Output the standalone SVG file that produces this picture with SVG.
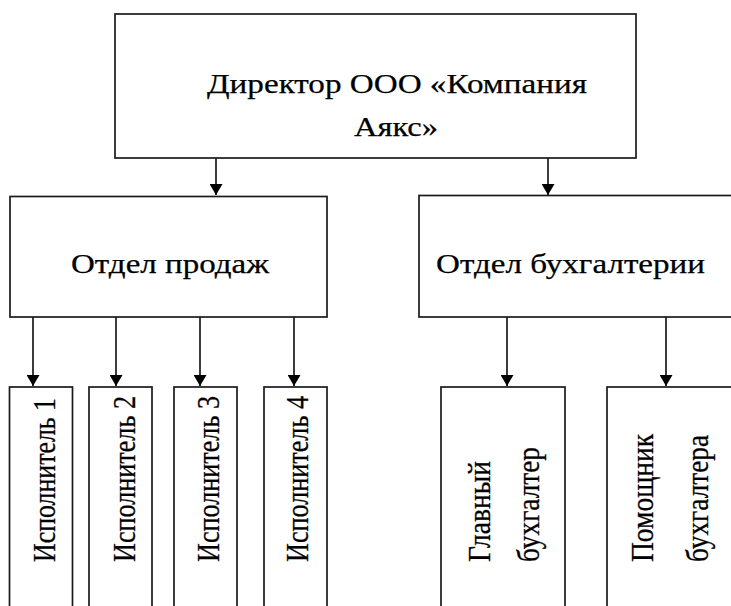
<svg xmlns="http://www.w3.org/2000/svg" width="731" height="606" viewBox="0 0 731 606">
  <style>
    .box { fill: #ffffff; stroke: #1a1a1a; stroke-width: 1.7; }
    .link { fill: none; stroke: #1a1a1a; stroke-width: 1.7; marker-end: url(#arrow); }
    text { font-family: 'Liberation Serif', 'DejaVu Serif', serif; fill: #000000; stroke: #000000; stroke-width: 0.25; }
    .lbl { font-size: 28px; }
    .vlbl { font-size: 27px; }
  </style>
  <defs>
    <marker id="arrow" viewBox="0 0 11 13" refX="11" refY="6.5" markerWidth="11" markerHeight="13" markerUnits="userSpaceOnUse" orient="auto">
      <path d="M0,0 L11,6.5 L0,13 z" fill="#000000"/>
    </marker>
  </defs>

  <rect width="731" height="606" fill="#ffffff"/>

  <!-- connectors -->
  <g id="connectors">
    <line class="link" x1="216" y1="158" x2="216" y2="195"/>
    <line class="link" x1="548" y1="158" x2="548" y2="195"/>
    <line class="link" x1="33" y1="317" x2="33" y2="386"/>
    <line class="link" x1="116" y1="317" x2="116" y2="386"/>
    <line class="link" x1="200" y1="317" x2="200" y2="386"/>
    <line class="link" x1="294" y1="317" x2="294" y2="386"/>
    <line class="link" x1="507" y1="317" x2="507" y2="386"/>
    <line class="link" x1="666" y1="315" x2="666" y2="386"/>
  </g>

  <!-- director -->
  <g id="director">
    <rect class="box" x="115" y="14" width="521" height="144"/>
    <text class="lbl" x="207" y="93" textLength="380" lengthAdjust="spacingAndGlyphs">Директор ООО «Компания</text>
    <text class="lbl" x="354" y="136" textLength="84" lengthAdjust="spacingAndGlyphs">Аякс»</text>
  </g>

  <!-- sales department -->
  <g id="sales">
    <rect class="box" x="10" y="196.5" width="317" height="120.5"/>
    <text class="lbl" x="71" y="273" textLength="198" lengthAdjust="spacingAndGlyphs">Отдел продаж</text>
  </g>

  <!-- accounting department -->
  <g id="accounting">
    <rect class="box" x="419" y="195.5" width="340" height="121.5"/>
    <text class="lbl" x="436" y="273" textLength="269" lengthAdjust="spacingAndGlyphs">Отдел бухгалтерии</text>
  </g>

  <!-- executors -->
  <g id="exec1">
    <rect class="box" x="9.5" y="387" width="63" height="240"/>
    <text class="vlbl" transform="translate(55,562) scale(1.17,1) rotate(-90)" textLength="164" lengthAdjust="spacingAndGlyphs">Исполнитель 1</text>
  </g>
  <g id="exec2">
    <rect class="box" x="89" y="387" width="63" height="240"/>
    <text class="vlbl" transform="translate(135,562) scale(1.17,1) rotate(-90)" textLength="166" lengthAdjust="spacingAndGlyphs">Исполнитель 2</text>
  </g>
  <g id="exec3">
    <rect class="box" x="174" y="387" width="63" height="240"/>
    <text class="vlbl" transform="translate(219,562) scale(1.17,1) rotate(-90)" textLength="166" lengthAdjust="spacingAndGlyphs">Исполнитель 3</text>
  </g>
  <g id="exec4">
    <rect class="box" x="264" y="387" width="63" height="240"/>
    <text class="vlbl" transform="translate(308,562) scale(1.17,1) rotate(-90)" textLength="166" lengthAdjust="spacingAndGlyphs">Исполнитель 4</text>
  </g>

  <!-- chief accountant -->
  <g id="chief-accountant">
    <rect class="box" x="441" y="387" width="124" height="240"/>
    <text class="vlbl" transform="translate(490,562) scale(1.17,1) rotate(-90)" textLength="101" lengthAdjust="spacingAndGlyphs">Главный</text>
    <text class="vlbl" transform="translate(539,562) scale(1.17,1) rotate(-90)" textLength="115" lengthAdjust="spacingAndGlyphs">бухгалтер</text>
  </g>

  <!-- assistant accountant -->
  <g id="assistant-accountant">
    <rect class="box" x="607" y="387" width="160" height="240"/>
    <text class="vlbl" transform="translate(653,562) scale(1.17,1) rotate(-90)" textLength="128" lengthAdjust="spacingAndGlyphs">Помощник</text>
    <text class="vlbl" transform="translate(708,562) scale(1.17,1) rotate(-90)" textLength="127" lengthAdjust="spacingAndGlyphs">бухгалтера</text>
  </g>
</svg>
